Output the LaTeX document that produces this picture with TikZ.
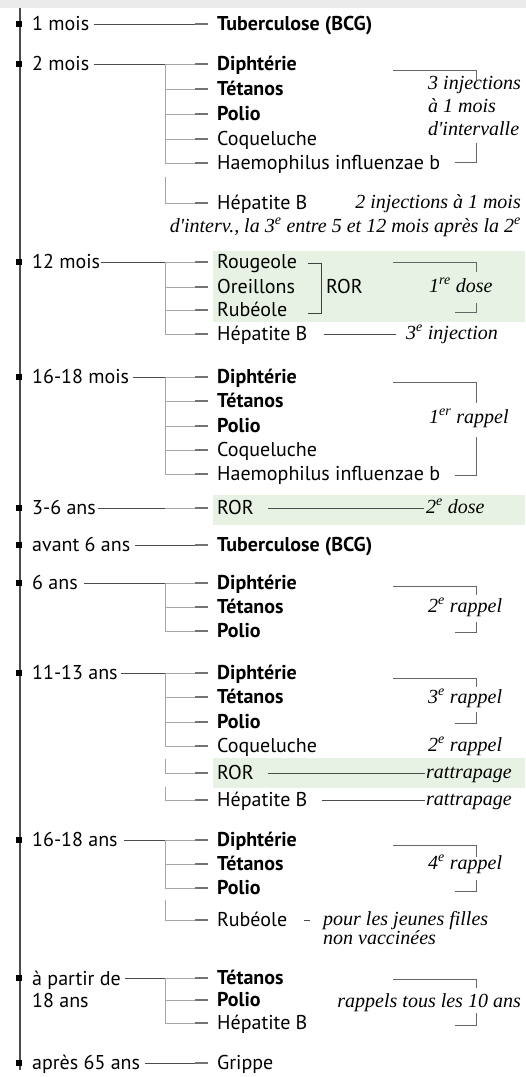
\documentclass[tikz,border=0pt]{standalone}
\usepackage{fontspec}
\setmainfont{PT Sans}
\newfontfamily\notefont{Liberation Serif}
\definecolor{bandgray}{RGB}{235,235,235}
\definecolor{rorgreen}{RGB}{231,242,228}
\begin{document}
\begin{tikzpicture}[x=1pt, y=-1pt,
    age/.style={anchor=west, inner sep=0pt, text height=14pt, text depth=1pt, font=\fontsize{20}{22}\selectfont},
    vac/.style={anchor=west, inner xsep=9pt, inner ysep=0pt, text height=14pt, text depth=1pt, font=\fontsize{20}{22}\selectfont},
    note/.style={inner sep=0pt, text height=12pt, text depth=2pt, font=\notefont\itshape\fontsize{20}{23}\selectfont},
    timeline/.style={black!70, line width=1.3pt},
    stem/.style={black!70, line width=0.8pt},
    branch/.style={black!35, line width=0.8pt},
    vdash/.style={black!55, line width=2.8pt},
    notebr/.style={black!60, line width=0.7pt}]
    % Define positions
    \def\xage{32}
    \def\xbr{165}
    \def\xvac{208}
    \useasboundingbox (0,0) rectangle (526,1077);
    \fill[bandgray] (0,0) rectangle (526,8);
    % Green highlights (ROR)
    \fill[rorgreen] (213,251) rectangle (525,322);
    \fill[rorgreen] (213,495) rectangle (525,525);
    \fill[rorgreen] (213,758) rectangle (525,788);
    % Timeline with ages
    \draw[timeline] (20,8) -- (20,1070);
    \foreach \nm/\y/\txt in {a1/24/1 mois, a2/64/2 mois, a3/262/12 mois, a4/377/16-18 mois,
        a5/508/3-6 ans, a6/545/avant 6 ans, a7/583/6 ans, a8/673/11-13 ans,
        a9/840/16-18 ans, a11/1063/après 65 ans}
    {
        \fill (16,\y-3) rectangle (21.5,\y+3);
        \node[age] (\nm) at (\xage,\y) {\txt};
    }
    \fill (16,975) rectangle (21.5,981);
    \node[age, align=left, anchor=north west, text height=, text depth=] (a10) at (\xage,970.5) {à partir de\\18 ans};
    % Vaccines
    \foreach \nm/\y/\txt in {v1a/24/\textbf{Tuberculose (BCG)},
        v2a/64/\textbf{Diphtérie}, v2b/89/\textbf{Tétanos}, v2c/114/\textbf{Polio},
        v2d/139/Coqueluche, v2e/163/Haemophilus influenzae b, v2f/203/Hépatite B,
        v3a/262/Rougeole, v3b/287/Oreillons, v3c/310/Rubéole, v3d/334/Hépatite B,
        v4a/377/\textbf{Diphtérie}, v4b/401/\textbf{Tétanos}, v4c/426/\textbf{Polio},
        v4d/450/Coqueluche, v4e/474/Haemophilus influenzae b,
        v5a/508/ROR, v6a/545/\textbf{Tuberculose (BCG)},
        v7a/583/\textbf{Diphtérie}, v7b/607/\textbf{Tétanos}, v7c/631/\textbf{Polio},
        v8a/673/\textbf{Diphtérie}, v8b/697/\textbf{Tétanos}, v8c/722/\textbf{Polio},
        v8d/746/Coqueluche, v8e/773/ROR, v8f/800/Hépatite B,
        v9a/840/\textbf{Diphtérie}, v9b/864/\textbf{Tétanos}, v9c/888/\textbf{Polio},
        v9d/920/Rubéole,
        v10a/978/\textbf{Tétanos}, v10b/1000/\textbf{Polio}, v10c/1023/Hépatite B,
        v11a/1063/Grippe}
    {
        \node[vac] (\nm) at (\xvac,\y) {\txt};
        \draw[vdash] (\nm.west) -- ++(-13,0);
    }
    % Single lines
    \draw[stem] ([xshift=5pt]a1.east) -- ([xshift=-13pt]v1a.west);
    \draw[stem] ([xshift=5pt]a6.east) -- ([xshift=-13pt]v6a.west);
    \draw[stem] ([xshift=5pt]a11.east) -- ([xshift=-13pt]v11a.west);
    \coordinate (b5) at (\xbr,508);
    \draw[stem] ([xshift=2pt]a5.east) -- (b5);
    \draw[branch] (b5) -- ([xshift=-13pt]v5a.west);
    % Brackets
    \foreach \g/\y/\first/\last/\list in {2/64/v2a/v2e/{v2a,v2b,v2c,v2d,v2e},
        3/262/v3a/v3d/{v3a,v3b,v3c,v3d}, 4/377/v4a/v4e/{v4a,v4b,v4c,v4d,v4e},
        7/583/v7a/v7c/{v7a,v7b,v7c}, 8/673/v8a/v8d/{v8a,v8b,v8c,v8d},
        9/840/v9a/v9c/{v9a,v9b,v9c}, 10/978/v10a/v10c/{v10a,v10b,v10c}}
    {
        \coordinate (b\g) at (\xbr,\y);
        \draw[branch] (b\g) -- (b\g |- \last.west);
        \foreach \v in \list
            \draw[branch] (b\g |- \v.west) -- ([xshift=-13pt]\v.west);
    }
    \draw[stem] ([xshift=5pt]a2.east) -- (b2);
    \draw[stem] ([xshift=1pt]a3.east) -- (b3);
    \draw[stem] ([xshift=4pt]a4.east) -- (b4);
    \draw[stem] ([xshift=6pt]a7.east) -- (b7);
    \draw[stem] ([xshift=3pt]a8.east) -- (b8);
    \draw[stem] ([xshift=6pt]a9.east) -- (b9);
    \draw[stem] ([xshift=4pt]a10.east |- b10) -- (b10);
    % Separate branches
    \draw[branch] (\xbr,177) |- ([xshift=-13pt]v2f.west);
    \draw[branch] (\xbr,759) |- ([xshift=-13pt]v8e.west);
    \draw[branch] (\xbr,787) |- ([xshift=-13pt]v8f.west);
    \draw[branch] (\xbr,900) |- ([xshift=-13pt]v9d.west);
    % ROR group
    \draw[notebr, black!75] (308,263) -| (321,313) -- (308,313);
    \node[anchor=west, inner sep=0pt, text height=14pt, text depth=1pt, font=\fontsize{20}{22}\selectfont] (ror3) at (326,287) {ROR};
    % Notes
    \node[note, anchor=north west, align=left, text height=, text depth=] (n2a) at (428,76.5) {3 injections\\à 1 mois\\d'intervalle};
    \node[note, anchor=east] (n2b) at (521,203) {2 injections à 1 mois};
    \node[note, anchor=east] (n2c) at (521,227) {d'interv., la 3\textsuperscript{e} entre 5 et 12 mois après la 2\textsuperscript{e}};
    \node[note, anchor=west] (n3a) at (429,287) {1\textsuperscript{re} dose};
    \node[note, anchor=west] (n3b) at (406,334) {3\textsuperscript{e} injection};
    \node[note, anchor=west] (n4a) at (429,418) {1\textsuperscript{er} rappel};
    \node[note, anchor=west] (n5a) at (426,508) {2\textsuperscript{e} dose};
    \node[note, anchor=west] (n7a) at (428,607) {2\textsuperscript{e} rappel};
    \node[note, anchor=west] (n8a) at (428,698) {3\textsuperscript{e} rappel};
    \node[note, anchor=west] (n8b) at (428,746) {2\textsuperscript{e} rappel};
    \node[note, anchor=west] (n8c) at (426,773) {rattrapage};
    \node[note, anchor=west] (n8d) at (426,800) {rattrapage};
    \node[note, anchor=west] (n9a) at (428,864) {4\textsuperscript{e} rappel};
    \node[note, anchor=north west, align=left, text height=, text depth=, font=\notefont\itshape\fontsize{20}{19}\selectfont] (n9b) at (323,911.5) {pour les jeunes filles\\non vaccinées};
    \node[note, anchor=east] (n10a) at (521,1002) {rappels tous les 10 ans};
    % Note connectors
    \draw[stem] ([xshift=7pt]v3d.east) -- ([xshift=-10pt]n3b.west);
    \draw[stem] ([xshift=5pt]v5a.east) -- ([xshift=-2pt]n5a.west);
    \draw[stem] ([xshift=5pt]v8e.east) -- ([xshift=-1pt]n8c.west);
    \draw[stem] ([xshift=5pt]v8f.east) -- ([xshift=-1pt]n8d.west);
    \draw[stem] ([xshift=8pt]v9d.east) -- ([xshift=-13pt]n9b.west |- v9d.east);
    % Note brackets
    \draw[notebr] (393,70) -| (476,80);   \draw[notebr] (476,143) |- (455,162);
    \draw[notebr] (393,262) -| (476,272); \draw[notebr] (476,303) |- (455,312);
    \draw[notebr] (393,382) -| (476,403); \draw[notebr] (476,437) |- (455,475);
    \draw[notebr] (393,586) -| (476,595); \draw[notebr] (476,622) |- (455,632);
    \draw[notebr] (393,678) -| (476,687); \draw[notebr] (476,712) |- (455,723);
    \draw[notebr] (393,845) -| (476,857); \draw[notebr] (476,880) |- (455,891);
    \draw[notebr] (393,979) -| (476,988); \draw[notebr] (476,1013) |- (455,1025);
\end{tikzpicture}
\end{document}
